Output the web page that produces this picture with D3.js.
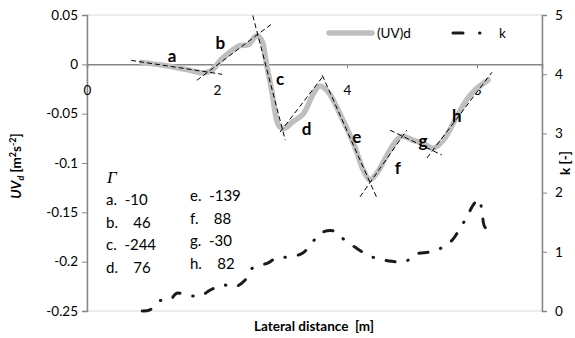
<!DOCTYPE html>
<html>
<head>
<meta charset="utf-8">
<script src="https://cdn.jsdelivr.net/npm/d3@7"></script>
<style>
  body { margin: 0; background: #fff; }
  text { font-family: Lato, "Open Sans", sans-serif; fill: #000; }
</style>
</head>
<body>
<div id="chart"></div>
<script>
// UV_d profile (grey curve), lateral distance in m
const uvX = [0.84, 1.17, 1.53, 1.79, 1.92, 2.05, 2.2, 2.35, 2.48, 2.61, 2.69, 2.76, 2.84, 2.92, 2.96, 3.03, 3.17, 3.33, 3.48, 3.58, 3.71, 3.89, 4.10, 4.25, 4.35, 4.46, 4.66, 4.79, 4.86, 5.02, 5.17, 5.33, 5.48, 5.69, 5.84, 5.97, 6.17]
const uvY = [0.002, -0.001, -0.0054, -0.0088, -0.006, 0.004, 0.0125, 0.019, 0.020, 0.029, 0.024, 0.0007, -0.026, -0.057, -0.063, -0.065, -0.058, -0.050, -0.030, -0.022, -0.028, -0.050, -0.080, -0.107, -0.117, -0.110, -0.087, -0.075, -0.073, -0.077, -0.080, -0.085, -0.077, -0.053, -0.036, -0.026, -0.016]

// k profile (dash-dot line)
const kX = [0.85, 0.97, 1.11, 1.28, 1.38, 1.54, 1.74, 1.89, 2.08, 2.28, 2.43, 2.55, 2.78, 2.92, 3.11, 3.32, 3.46, 3.60, 3.80, 3.94, 4.12, 4.31, 4.48, 4.69, 4.89, 5.06, 5.28, 5.48, 5.62, 5.74, 5.86, 5.94, 6.03, 6.08, 6.12, 6.23]
const kY = [0.00, 0.02, 0.17, 0.19, 0.30, 0.27, 0.25, 0.35, 0.44, 0.41, 0.52, 0.73, 0.81, 0.90, 0.91, 0.98, 1.15, 1.32, 1.35, 1.22, 1.08, 0.95, 0.88, 0.84, 0.83, 0.96, 1.00, 1.08, 1.20, 1.40, 1.62, 1.79, 1.89, 1.64, 1.42, 1.33]

// segment tangents a..h  [x1, y1, x2, y2]
const segNames = ['a', 'b', 'c', 'd', 'e', 'f', 'g', 'h']
const segLines = [
  [0.68, 0.004, 2.08, -0.0101],
  [1.69, -0.0162, 2.83, 0.0404],
  [2.55, 0.0495, 3.05, -0.0768],
  [2.97, -0.0687, 3.62, -0.0131],
  [3.62, -0.0111, 4.46, -0.1354],
  [4.20, -0.1343, 4.92, -0.0667],
  [4.66, -0.0667, 5.46, -0.0919],
  [5.23, -0.0949, 6.23, -0.0081]
]
const segLabelX = [1.31, 2.05, 2.97, 3.38, 4.15, 4.78, 5.17, 5.69]
const segLabelY = [0.0091, 0.0222, -0.0141, -0.0646, -0.0727, -0.105, -0.0768, -0.0515]
const gammaVals = ['-10', '46', '-244', '76', '-139', '88', '-30', '82']

const xTicks = [0, 2, 4, 6]
const yLeftTicks = [0.05, 0, -0.05, -0.1, -0.15, -0.2, -0.25]
const yLeftLabels = ['0.05', '0', '-0.05', '-0.1', '-0.15', '-0.2', '-0.25']
const yRightTicks = [0, 1, 2, 3, 4, 5]

const W = 575, H = 338
const svg = d3.select('#chart').append('svg')
  .attr('width', W)
  .attr('height', H)

const x = d3.scaleLinear().domain([0, 7]).range([87, 542])
const yL = d3.scaleLinear().domain([-0.25, 0.05]).range([311, 15])
const yR = d3.scaleLinear().domain([0, 5]).range([311, 15])

const axisGrey = '#868686'

// plot area border
svg.append('rect')
  .attr('x', x(0)).attr('y', yL(0.05))
  .attr('width', x(7) - x(0)).attr('height', yL(-0.25) - yL(0.05))
  .attr('fill', 'none').attr('stroke', '#d9d9d9')

// left axis
const gL = svg.append('g')
  .attr('transform', `translate(${x(0)},0)`)
  .call(d3.axisLeft(yL).tickValues(yLeftTicks).tickSize(5).tickPadding(4)
    .tickFormat((d, i) => yLeftLabels[i]))
gL.select('.domain').attr('stroke', axisGrey).attr('stroke-width', 1.5)
gL.selectAll('.tick line').attr('stroke', axisGrey)
gL.selectAll('text').style('font-size', '13.5px').attr('fill', '#000')

// right axis
const gR = svg.append('g')
  .attr('transform', `translate(${x(7)},0)`)
  .call(d3.axisRight(yR).tickValues(yRightTicks).tickSize(5).tickPadding(8)
    .tickFormat(d3.format('d')))
gR.select('.domain').attr('stroke', axisGrey).attr('stroke-width', 1.5)
gR.selectAll('.tick line').attr('stroke', axisGrey)
gR.selectAll('text').style('font-size', '13.5px').attr('fill', '#000')

// horizontal axis at UV = 0
const gX = svg.append('g')
  .attr('transform', `translate(0,${yL(0)})`)
  .call(d3.axisBottom(x).tickValues(xTicks).tickSize(4).tickPadding(17).tickFormat(d3.format('d')))
gX.select('.domain').attr('stroke', axisGrey).attr('stroke-width', 1.5)
gX.selectAll('.tick line').attr('stroke', axisGrey)
gX.selectAll('text').style('font-size', '13.5px').attr('fill', '#000')

// k line
const kLine = d3.line()
  .x(d => x(d[0]))
  .y(d => yR(d[1]))
  .curve(d3.curveCatmullRom)
svg.append('path')
  .datum(kX.map((v, i) => [v, kY[i]]))
  .attr('d', kLine)
  .attr('fill', 'none')
  .attr('stroke', '#1a1a1a')
  .attr('stroke-width', 3)
  .attr('stroke-linecap', 'round')
  .attr('stroke-dasharray', '9,13,0.5,13')

// UV_d curve
const uvLine = d3.line()
  .x(d => x(d[0]))
  .y(d => yL(d[1]))
  .curve(d3.curveCatmullRom)
svg.append('path')
  .datum(uvX.map((v, i) => [v, uvY[i]]))
  .attr('d', uvLine)
  .attr('fill', 'none')
  .attr('stroke', '#bfbfbf')
  .attr('stroke-width', 5.5)
  .attr('stroke-linecap', 'round')
  .attr('stroke-linejoin', 'round')

// tangent dashed lines
svg.selectAll('.seg')
  .data(segLines)
  .enter()
  .append('line')
  .attr('class', 'seg')
  .attr('x1', d => x(d[0])).attr('y1', d => yL(d[1]))
  .attr('x2', d => x(d[2])).attr('y2', d => yL(d[3]))
  .attr('stroke', '#000')
  .attr('stroke-width', 1)
  .attr('stroke-dasharray', '5,3')

// segment letters
svg.selectAll('.segLabel')
  .data(segNames)
  .enter()
  .append('text')
  .attr('class', 'segLabel')
  .attr('x', (d, i) => x(segLabelX[i]))
  .attr('y', (d, i) => yL(segLabelY[i]))
  .attr('text-anchor', 'middle')
  .attr('dominant-baseline', 'central')
  .style('font-size', '17px')
  .style('font-weight', 'bold')
  .text(d => d)

// Gamma table
svg.append('text')
  .attr('x', 107).attr('y', 183)
  .style('font-family', '"Liberation Serif", serif')
  .style('font-style', 'italic')
  .style('font-size', '17px')
  .text('\u0393')

svg.selectAll('.gamma')
  .data(gammaVals)
  .enter()
  .append('text')
  .attr('class', 'gamma')
  .attr('x', (d, i) => i < 4 ? 106 : 190)
  .attr('y', (d, i) => (i < 4 ? 205 : 201) + (i % 4) * 22.5)
  .style('font-size', '15px')
  .attr('xml:space', 'preserve')
  .text((d, i) => segNames[i] + '.' + (d.startsWith('-') ? '  ' : '    ') + d)

// legend
svg.append('line')
  .attr('x1', 329).attr('x2', 372).attr('y1', 33).attr('y2', 33)
  .attr('stroke', '#bfbfbf').attr('stroke-width', 5.5).attr('stroke-linecap', 'round')
svg.append('text')
  .attr('x', 377).attr('y', 33).attr('dominant-baseline', 'central')
  .style('font-size', '13.5px').text('(UV)d')
svg.append('line')
  .attr('x1', 453).attr('x2', 485).attr('y1', 33).attr('y2', 33)
  .attr('stroke', '#1a1a1a').attr('stroke-width', 3).attr('stroke-linecap', 'round')
  .attr('stroke-dasharray', '10,16.5,0.5,20')
svg.append('text')
  .attr('x', 499).attr('y', 33).attr('dominant-baseline', 'central')
  .style('font-size', '13.5px').text('k')

// axis titles
svg.append('text')
  .attr('x', 314).attr('y', 331)
  .attr('text-anchor', 'middle')
  .style('font-size', '13.5px').style('font-weight', 'bold')
  .attr('xml:space', 'preserve')
  .text('Lateral distance  [m]')

const yt = svg.append('text')
  .attr('transform', 'translate(21,166) rotate(-90)')
  .attr('text-anchor', 'middle')
  .style('font-size', '13.5px').style('font-weight', 'bold')
yt.append('tspan').style('font-style', 'italic').text('UV')
yt.append('tspan').style('font-style', 'italic').style('font-size', '9px').attr('dy', 3).text('d')
yt.append('tspan').attr('dy', -3).text(' [m')
yt.append('tspan').style('font-size', '9px').attr('dy', -5).text('2')
yt.append('tspan').attr('dy', 5).text('s')
yt.append('tspan').style('font-size', '9px').attr('dy', -5).text('-2')
yt.append('tspan').attr('dy', 5).text(']')

svg.append('text')
  .attr('transform', 'translate(570,163) rotate(-90)')
  .attr('text-anchor', 'middle')
  .style('font-size', '13.5px').style('font-weight', 'bold')
  .text('k [-]')
</script>
</body>
</html>
